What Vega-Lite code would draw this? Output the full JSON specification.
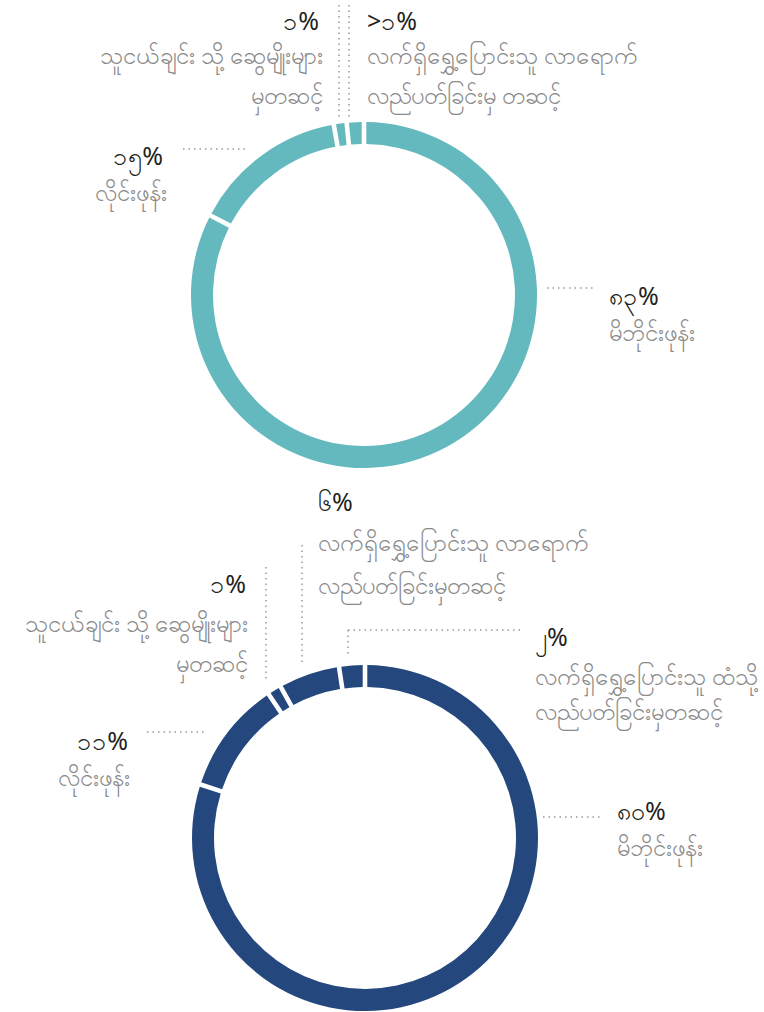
{
  "$schema": "https://vega.github.io/schema/vega-lite/v6.json",
  "width": 764,
  "height": 1012,
  "padding": 0,
  "autosize": {"type": "fit", "contains": "padding"},
  "background": "white",
  "config": {
    "view": {"stroke": null},
    "text": {"font": "Noto Sans", "lineBreak": "\n"}
  },
  "datasets": {
    "top": [
      {"cat": "mobile", "rank": 1, "value": 82.6, "pct": "၈၃%", "desc": "မိဘိုင်းဖုန်း"},
      {"cat": "landline", "rank": 2, "value": 14.6, "pct": "၁၅%", "desc": "လိုင်းဖုန်း"},
      {"cat": "friends", "rank": 3, "value": 1.2, "pct": "၁%", "desc": "သူငယ်ချင်း သို့ ဆွေမျိုးများ\nမှတဆင့်"},
      {"cat": "visit", "rank": 4, "value": 1.6, "pct": ">၁%", "desc": "လက်ရှိရွှေ့ပြောင်းသူ လာရောက်\nလည်ပတ်ခြင်းမှ တဆင့်"}
    ],
    "bottom": [
      {"cat": "mobile", "rank": 1, "value": 80, "pct": "၈၀%", "desc": "မိဘိုင်းဖုန်း"},
      {"cat": "landline", "rank": 2, "value": 10.6, "pct": "၁၁%", "desc": "လိုင်းဖုန်း"},
      {"cat": "friends", "rank": 3, "value": 1.3, "pct": "၁%", "desc": "သူငယ်ချင်း သို့ ဆွေမျိုးများ\nမှတဆင့်"},
      {"cat": "visit", "rank": 4, "value": 5.7, "pct": "၆%", "desc": "လက်ရှိရွှေ့ပြောင်းသူ လာရောက်\nလည်ပတ်ခြင်းမှတဆင့်"},
      {"cat": "tovisit", "rank": 5, "value": 2.4, "pct": "၂%", "desc": "လက်ရှိရွှေ့ပြောင်းသူ ထံသို့\nလည်ပတ်ခြင်းမှတဆင့်"}
    ]
  },
  "layer": [
    {
      "data": {"name": "top"},
      "mark": {"type": "arc", "innerRadius": 151, "outerRadius": 173, "padAngle": 0.02, "color": "#64b9be"},
      "encoding": {
        "theta": {"field": "value", "type": "quantitative", "stack": true},
        "order": {"field": "rank", "type": "quantitative"},
        "x": {"datum": 364, "type": "quantitative", "axis": null, "scale": {"domain": [0, 764], "nice": false, "zero": false}},
        "y": {"datum": 295, "type": "quantitative", "axis": null, "scale": {"domain": [0, 1012], "nice": false, "zero": false, "reverse": true}}
      }
    },
    {
      "data": {"name": "bottom"},
      "mark": {"type": "arc", "innerRadius": 151, "outerRadius": 173, "padAngle": 0.02, "color": "#24477e"},
      "encoding": {
        "theta": {"field": "value", "type": "quantitative", "stack": true},
        "order": {"field": "rank", "type": "quantitative"},
        "x": {"datum": 365, "type": "quantitative", "axis": null, "scale": {"domain": [0, 764], "nice": false, "zero": false}},
        "y": {"datum": 838, "type": "quantitative", "axis": null, "scale": {"domain": [0, 1012], "nice": false, "zero": false, "reverse": true}}
      }
    },
    {
      "data": {"name": "top"},
      "transform": [{"filter": "datum.cat === 'mobile'"}],
      "layer": [
        {"mark": {"type": "text", "align": "left", "baseline": "alphabetic", "fontSize": 25, "color": "#231f20"},
         "encoding": {"text": {"field": "pct"}, "x": {"datum": 609, "type": "quantitative"}, "y": {"datum": 305, "type": "quantitative"}}},
        {"mark": {"type": "text", "align": "left", "baseline": "alphabetic", "fontSize": 24, "color": "#8a8a8a", "lineHeight": 40},
         "encoding": {"text": {"field": "desc"}, "x": {"datum": 609, "type": "quantitative"}, "y": {"datum": 341, "type": "quantitative"}}},
        {"mark": {"type": "rule", "color": "#999999", "strokeWidth": 1.5, "strokeDash": [1.5, 4]},
         "encoding": {"x": {"datum": 547, "type": "quantitative"}, "x2": {"datum": 595}, "y": {"datum": 288, "type": "quantitative"}}}
      ]
    },
    {
      "data": {"name": "top"},
      "transform": [{"filter": "datum.cat === 'landline'"}],
      "layer": [
        {"mark": {"type": "text", "align": "right", "baseline": "alphabetic", "fontSize": 25, "color": "#231f20"},
         "encoding": {"text": {"field": "pct"}, "x": {"datum": 163, "type": "quantitative"}, "y": {"datum": 165, "type": "quantitative"}}},
        {"mark": {"type": "text", "align": "right", "baseline": "alphabetic", "fontSize": 24, "color": "#8a8a8a", "lineHeight": 40},
         "encoding": {"text": {"field": "desc"}, "x": {"datum": 167, "type": "quantitative"}, "y": {"datum": 201, "type": "quantitative"}}},
        {"mark": {"type": "rule", "color": "#999999", "strokeWidth": 1.5, "strokeDash": [1.5, 4]},
         "encoding": {"x": {"datum": 183, "type": "quantitative"}, "x2": {"datum": 248}, "y": {"datum": 149, "type": "quantitative"}}}
      ]
    },
    {
      "data": {"name": "top"},
      "transform": [{"filter": "datum.cat === 'friends'"}],
      "layer": [
        {"mark": {"type": "text", "align": "right", "baseline": "alphabetic", "fontSize": 25, "color": "#231f20"},
         "encoding": {"text": {"field": "pct"}, "x": {"datum": 319, "type": "quantitative"}, "y": {"datum": 30, "type": "quantitative"}}},
        {"mark": {"type": "text", "align": "right", "baseline": "alphabetic", "fontSize": 24, "color": "#8a8a8a", "lineHeight": 40},
         "encoding": {"text": {"field": "desc"}, "x": {"datum": 323, "type": "quantitative"}, "y": {"datum": 64, "type": "quantitative"}}},
        {"mark": {"type": "rule", "color": "#999999", "strokeWidth": 1.5, "strokeDash": [1.5, 4]},
         "encoding": {"x": {"datum": 339, "type": "quantitative"}, "y": {"datum": 5, "type": "quantitative"}, "y2": {"datum": 117}}}
      ]
    },
    {
      "data": {"name": "top"},
      "transform": [{"filter": "datum.cat === 'visit'"}],
      "layer": [
        {"mark": {"type": "text", "align": "left", "baseline": "alphabetic", "fontSize": 25, "color": "#231f20"},
         "encoding": {"text": {"field": "pct"}, "x": {"datum": 367, "type": "quantitative"}, "y": {"datum": 30, "type": "quantitative"}}},
        {"mark": {"type": "text", "align": "left", "baseline": "alphabetic", "fontSize": 24, "color": "#8a8a8a", "lineHeight": 40},
         "encoding": {"text": {"field": "desc"}, "x": {"datum": 367, "type": "quantitative"}, "y": {"datum": 64, "type": "quantitative"}}},
        {"mark": {"type": "rule", "color": "#999999", "strokeWidth": 1.5, "strokeDash": [1.5, 4]},
         "encoding": {"x": {"datum": 349, "type": "quantitative"}, "y": {"datum": 5, "type": "quantitative"}, "y2": {"datum": 117}}}
      ]
    },
    {
      "data": {"name": "bottom"},
      "transform": [{"filter": "datum.cat === 'mobile'"}],
      "layer": [
        {"mark": {"type": "text", "align": "left", "baseline": "alphabetic", "fontSize": 25, "color": "#231f20"},
         "encoding": {"text": {"field": "pct"}, "x": {"datum": 617, "type": "quantitative"}, "y": {"datum": 820, "type": "quantitative"}}},
        {"mark": {"type": "text", "align": "left", "baseline": "alphabetic", "fontSize": 24, "color": "#8a8a8a", "lineHeight": 40},
         "encoding": {"text": {"field": "desc"}, "x": {"datum": 617, "type": "quantitative"}, "y": {"datum": 856, "type": "quantitative"}}},
        {"mark": {"type": "rule", "color": "#999999", "strokeWidth": 1.5, "strokeDash": [1.5, 4]},
         "encoding": {"x": {"datum": 543, "type": "quantitative"}, "x2": {"datum": 600}, "y": {"datum": 817, "type": "quantitative"}}}
      ]
    },
    {
      "data": {"name": "bottom"},
      "transform": [{"filter": "datum.cat === 'landline'"}],
      "layer": [
        {"mark": {"type": "text", "align": "right", "baseline": "alphabetic", "fontSize": 25, "color": "#231f20"},
         "encoding": {"text": {"field": "pct"}, "x": {"datum": 128, "type": "quantitative"}, "y": {"datum": 750, "type": "quantitative"}}},
        {"mark": {"type": "text", "align": "right", "baseline": "alphabetic", "fontSize": 24, "color": "#8a8a8a", "lineHeight": 40},
         "encoding": {"text": {"field": "desc"}, "x": {"datum": 130, "type": "quantitative"}, "y": {"datum": 786, "type": "quantitative"}}},
        {"mark": {"type": "rule", "color": "#999999", "strokeWidth": 1.5, "strokeDash": [1.5, 4]},
         "encoding": {"x": {"datum": 147, "type": "quantitative"}, "x2": {"datum": 207}, "y": {"datum": 732, "type": "quantitative"}}}
      ]
    },
    {
      "data": {"name": "bottom"},
      "transform": [{"filter": "datum.cat === 'friends'"}],
      "layer": [
        {"mark": {"type": "text", "align": "right", "baseline": "alphabetic", "fontSize": 25, "color": "#231f20"},
         "encoding": {"text": {"field": "pct"}, "x": {"datum": 246, "type": "quantitative"}, "y": {"datum": 593, "type": "quantitative"}}},
        {"mark": {"type": "text", "align": "right", "baseline": "alphabetic", "fontSize": 24, "color": "#8a8a8a", "lineHeight": 40},
         "encoding": {"text": {"field": "desc"}, "x": {"datum": 248, "type": "quantitative"}, "y": {"datum": 632, "type": "quantitative"}}},
        {"mark": {"type": "rule", "color": "#999999", "strokeWidth": 1.5, "strokeDash": [1.5, 4]},
         "encoding": {"x": {"datum": 266, "type": "quantitative"}, "y": {"datum": 567, "type": "quantitative"}, "y2": {"datum": 680}}}
      ]
    },
    {
      "data": {"name": "bottom"},
      "transform": [{"filter": "datum.cat === 'visit'"}],
      "layer": [
        {"mark": {"type": "text", "align": "left", "baseline": "alphabetic", "fontSize": 25, "color": "#231f20"},
         "encoding": {"text": {"field": "pct"}, "x": {"datum": 318, "type": "quantitative"}, "y": {"datum": 511, "type": "quantitative"}}},
        {"mark": {"type": "text", "align": "left", "baseline": "alphabetic", "fontSize": 24, "color": "#8a8a8a", "lineHeight": 43},
         "encoding": {"text": {"field": "desc"}, "x": {"datum": 318, "type": "quantitative"}, "y": {"datum": 551, "type": "quantitative"}}},
        {"mark": {"type": "rule", "color": "#999999", "strokeWidth": 1.5, "strokeDash": [1.5, 4]},
         "encoding": {"x": {"datum": 302, "type": "quantitative"}, "y": {"datum": 545, "type": "quantitative"}, "y2": {"datum": 662}}}
      ]
    },
    {
      "data": {"name": "bottom"},
      "transform": [{"filter": "datum.cat === 'tovisit'"}],
      "layer": [
        {"mark": {"type": "text", "align": "left", "baseline": "alphabetic", "fontSize": 25, "color": "#231f20"},
         "encoding": {"text": {"field": "pct"}, "x": {"datum": 535, "type": "quantitative"}, "y": {"datum": 646, "type": "quantitative"}}},
        {"mark": {"type": "text", "align": "left", "baseline": "alphabetic", "fontSize": 24, "color": "#8a8a8a", "lineHeight": 35},
         "encoding": {"text": {"field": "desc"}, "x": {"datum": 535, "type": "quantitative"}, "y": {"datum": 685, "type": "quantitative"}}},
        {"mark": {"type": "rule", "color": "#999999", "strokeWidth": 1.5, "strokeDash": [1.5, 4]},
         "encoding": {"x": {"datum": 348, "type": "quantitative"}, "y": {"datum": 630, "type": "quantitative"}, "y2": {"datum": 655}}},
        {"mark": {"type": "rule", "color": "#999999", "strokeWidth": 1.5, "strokeDash": [1.5, 4]},
         "encoding": {"x": {"datum": 348, "type": "quantitative"}, "x2": {"datum": 520}, "y": {"datum": 630, "type": "quantitative"}}}
      ]
    }
  ]
}
